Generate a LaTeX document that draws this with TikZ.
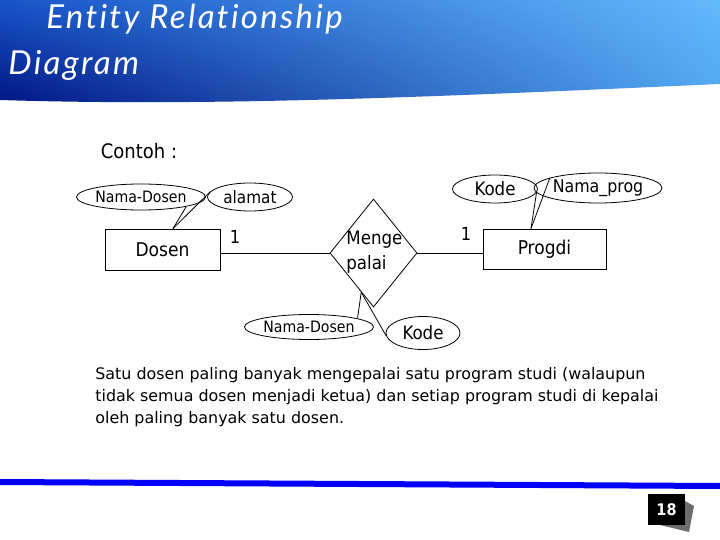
\documentclass[tikz,border=0pt]{standalone}
\usepackage{fontspec}
\setmainfont{DejaVu Sans Condensed}
\newfontfamily\titlefont[LetterSpace=7,Ligatures=NoCommon]{Lato}
\newfontfamily\bodyfont{DejaVu Sans}
\usetikzlibrary{shapes.geometric,calc,shadings}
\newcommand\myfs[1]{\fontsize{#1}{#1}\selectfont}
\definecolor{hdUL}{RGB}{25,85,200}
\definecolor{hdLL}{RGB}{0,20,130}
\definecolor{hdUR}{RGB}{100,185,250}
\definecolor{hdLR}{RGB}{80,165,240}
\definecolor{footblue}{RGB}{0,0,250}
\begin{document}
\begin{tikzpicture}[x=1pt,y=-1pt,line width=0.8pt,
  attr/.style={ellipse, draw, inner sep=0pt, font=\myfs{15.7}},
  ent/.style={rectangle, draw, inner sep=0pt, font=\myfs{19}},
  rel/.style={diamond, draw, inner sep=0pt},
  lbl/.style={inner sep=0pt, font=\myfs{18}}]
\useasboundingbox (0,0) rectangle (720,540);
\fill[white] (0,0) rectangle (720,540);
% header band
\shade[upper left=hdUL, lower left=hdLL, upper right=hdUR, lower right=hdLR]
  (0,0) -- (720,0) -- (720,84) .. controls (450,96) and (220,107) .. (0,100) -- cycle;
\node[anchor=base west, inner sep=0pt, text=white, font=\titlefont\itshape\myfs{33}] (t1) at (46,29) {Entity Relationship};
\node[anchor=base west, inner sep=0pt, text=white, font=\titlefont\itshape\myfs{33}] (t2) at (8,75) {Diagram};
% Contoh
\node[inner sep=0pt, font=\myfs{20}] (contoh) at (139,151) {Contoh :};
% entities and attributes
\node[ent, minimum width=115, minimum height=41] (dosen) at (162.5,249.5) {Dosen};
\node[ent, minimum width=123, minimum height=40] (progdi) at (544.5,249) {Progdi};
\node[attr, minimum width=108, minimum height=26] (nd1) at (141,197) {Nama-Dosen};
\node[attr, minimum width=85, minimum height=28, font=\myfs{17}] (al) at (250,197) {alamat};
\node[attr, minimum width=85, minimum height=28, font=\myfs{18.5}] (kode1) at (495,189) {Kode};
\node[attr, minimum width=96, minimum height=30, font=\myfs{17.6}] (np) at (598,188) {Nama\_prog};
\node[attr, minimum width=108, minimum height=25] (nd2) at (309,327) {Nama-Dosen};
\node[attr, minimum width=74, minimum height=33, font=\myfs{18.5}] (kode2) at (423,333) {Kode};
% relationship
\node[rel, minimum width=87, minimum height=108] (mp) at (373.5,253) {};
\node[anchor=west, align=left, inner sep=0pt, font=\fontsize{18.5}{24.5}\selectfont] (mptxt) at (346,252) {Menge\\palai};
% cardinalities
\node[lbl] (c1) at (235,237) {1};
\node[lbl] (c2) at (466,234) {1};
% connection points
\coordinate (dtop) at ([xshift=10.5pt]dosen.north);
\coordinate (ptop) at ([xshift=-13.5pt]progdi.north);
\coordinate (mpb) at ($(mp.west)!0.72!(mp.south)$);
% connectors
\draw (nd1.-12) -- (dtop);
\draw (al.172) -- (dtop);
\draw (kode1.-5) -- (ptop);
\draw (np.168) -- (ptop);
\draw (dosen.east |- mp.west) -- (mp.west);
\draw (mp.east) -- (progdi.west |- mp.east);
\draw (mpb) -- (nd2.10);
\draw (mpb) -- (kode2.184);
% description
\node[anchor=north west, align=left, inner sep=0pt, font=\bodyfont\fontsize{15.9}{22}\selectfont] (desc) at (95,367)
  {Satu dosen paling banyak mengepalai satu program studi (walaupun\\
   tidak semua dosen menjadi ketua) dan setiap program studi di kepalai\\
   oleh paling banyak satu dosen.};
% footer
\fill[footblue] (0,479) -- (720,483) -- (720,489) -- (0,485) -- cycle;
\fill[gray!85!black] (683,500) -- (694,506) -- (689,532) -- (660,525) -- cycle;
\node[fill=black, text=white, minimum width=37, minimum height=31, inner sep=0pt, font=\bfseries\myfs{16}] (pg) at (666.5,509.5) {18};
\end{tikzpicture}
\end{document}
